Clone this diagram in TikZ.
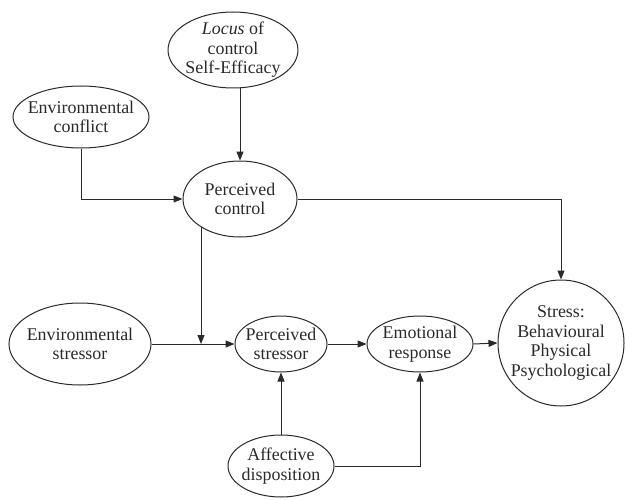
\documentclass[tikz,border=0pt]{standalone}
\usepackage{fontspec}
\setmainfont{Liberation Serif}
\usetikzlibrary{shapes.geometric,arrows.meta}
\definecolor{ink}{HTML}{2A2A2A}
\begin{document}
\begin{tikzpicture}[x=1pt,y=-1pt,
  font=\fontsize{17.9}{19.5}\selectfont,
  every label/.style={text=ink,align=center,inner sep=0pt},
  oval/.style={ellipse,draw=ink,line width=1pt,inner sep=0pt},
  arr/.style={draw=ink,line width=1pt,-{Triangle[length=9pt,width=7pt]}}]
\useasboundingbox (0,0) rectangle (626,500);

% factors
\node[oval,minimum width=130pt,minimum height=76pt,
  label={center:\textit{Locus} of\\control\\Self-Efficacy}] (loc) at (233,50) {};
\node[oval,minimum width=136pt,minimum height=62pt,
  label={center:Environmental\\conflict}] (ec) at (81,117) {};
\node[oval,minimum width=114pt,minimum height=76pt,
  label={center:Perceived\\control}] (pc) at (240,199) {};
\node[oval,minimum width=142pt,minimum height=82pt,
  label={center:Environmental\\stressor}] (es) at (80,344) {};
\node[oval,minimum width=92pt,minimum height=56pt,
  label={center:Perceived\\stressor}] (ps) at (281,344) {};
\node[oval,minimum width=106pt,minimum height=56pt,
  label={center:Emotional\\response}] (er) at (420,344) {};
\node[circle,draw=ink,line width=1pt,inner sep=0pt,minimum size=126pt,
  label={center:Stress:\\Behavioural\\Physical\\Psychological}] (st) at (561,343) {};
\node[oval,minimum width=106pt,minimum height=62pt,
  label={center:Affective\\disposition}] (ad) at (281,466) {};

% point where perceived control acts on the stressor path
\coordinate (jn) at (201,344);

% connectors
\draw[arr] (pc.north |- loc.south) -- (pc.north);
\draw[arr] (ec.south) |- (pc.west);
\draw[arr] (pc.east) -| (st.north);
\draw[arr] (pc.216 -| jn) -- (jn);
\draw[arr] (es.east) -- (ps.west);
\draw[arr] (ps.east) -- (er.west);
\draw[arr] (er.east) -- (st.west);
\draw[arr] (ad.north) -- (ps.south);
\draw[arr] (ad.east) -| (er.south);
\end{tikzpicture}
\end{document}
